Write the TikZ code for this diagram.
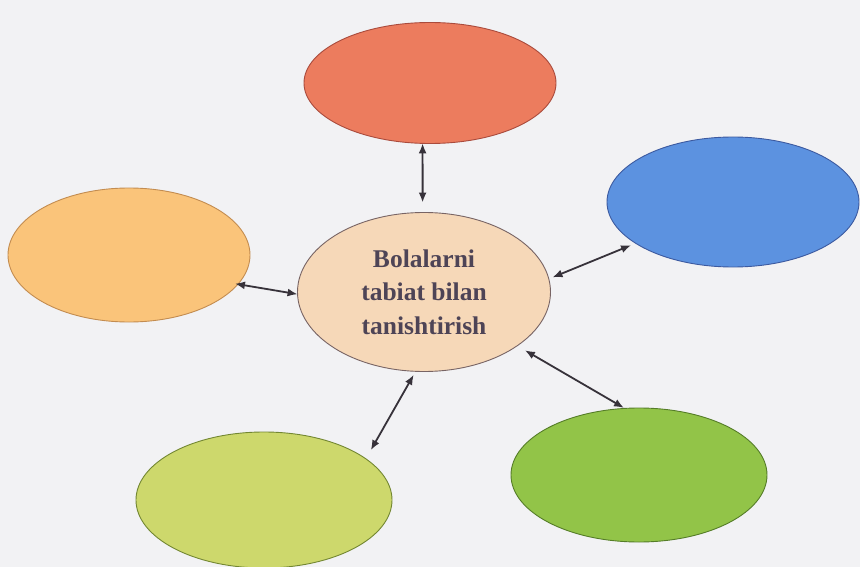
\documentclass[tikz,border=0pt]{standalone}
\usepackage{fontspec}
\setmainfont{Liberation Serif}
\usetikzlibrary{shapes.geometric,arrows.meta}
\definecolor{bg}{RGB}{242,242,244}
\definecolor{cTop}{RGB}{236,124,94}
\definecolor{dTop}{RGB}{170,75,60}
\definecolor{cBlue}{RGB}{92,146,224}
\definecolor{dBlue}{RGB}{60,90,160}
\definecolor{cLeft}{RGB}{250,196,122}
\definecolor{dLeft}{RGB}{195,140,80}
\definecolor{cMid}{RGB}{246,216,184}
\definecolor{dMid}{RGB}{120,100,100}
\definecolor{cYel}{RGB}{205,216,108}
\definecolor{dYel}{RGB}{115,135,50}
\definecolor{cGrn}{RGB}{146,196,72}
\definecolor{dGrn}{RGB}{85,125,40}
\definecolor{txt}{RGB}{78,68,86}
\definecolor{arr}{RGB}{55,50,58}
\tikzset{
  blob/.style={ellipse, inner sep=0pt, outer sep=0pt, line width=0.9pt},
  link/.style={draw=arr, line width=1.8pt, {Latex[length=10pt,width=8pt]}-{Latex[length=10pt,width=8pt]}}
}
\begin{document}
\begin{tikzpicture}[x=1pt,y=-1pt]
\fill[bg] (0,0) rectangle (860,567);
\useasboundingbox (0,0) rectangle (860,567);
\node[blob, fill=cTop, draw=dTop, minimum width=252pt, minimum height=121pt] (top) at (430,83) {};
\node[blob, fill=cBlue, draw=dBlue, minimum width=252pt, minimum height=130pt] (blue) at (733,202) {};
\node[blob, fill=cLeft, draw=dLeft, minimum width=242pt, minimum height=134pt] (left) at (129,255) {};
\node[blob, fill=cMid, draw=dMid, minimum width=253pt, minimum height=159pt, text=txt, align=center,
  font=\fontsize{25.5}{33.5}\selectfont\bfseries] (mid) at (424,292) {Bolalarni\\tabiat bilan\\tanishtirish};
\node[blob, fill=cYel, draw=dYel, minimum width=256pt, minimum height=136pt] (yel) at (264,500) {};
\node[blob, fill=cGrn, draw=dGrn, minimum width=256pt, minimum height=134pt] (grn) at (639,475) {};
\draw[link, shorten <=0pt, shorten >=10pt] (top.263) -- (mid.91);
\draw[link, shorten <=-3pt, shorten >=0pt] (left.345) -- (mid.181);
\draw[link, shorten <=5pt, shorten >=4pt] (blue.203) -- (mid.6);
\draw[link, shorten <=9pt, shorten >=1pt] (mid.330) -- (grn.102);
\draw[link, shorten <=4pt, shorten >=10pt] (mid.264) -- (yel.22);
\end{tikzpicture}
\end{document}
